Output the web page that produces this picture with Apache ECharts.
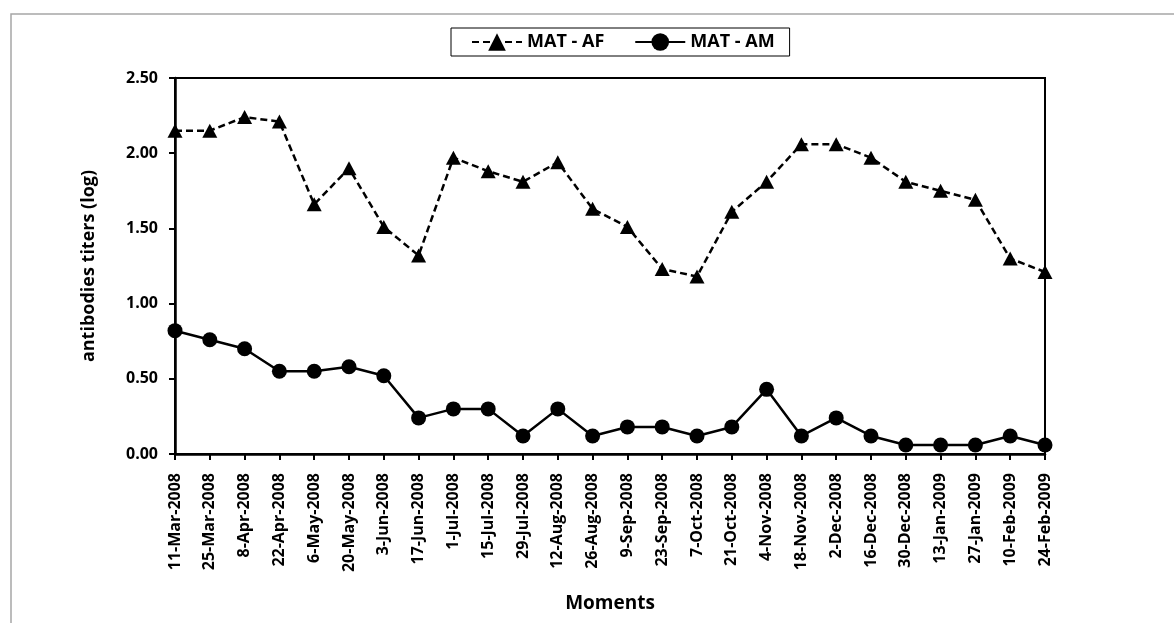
<!DOCTYPE html>
<html>
<head>
<meta charset="utf-8">
<script src="https://cdn.jsdelivr.net/npm/echarts@6/dist/echarts.min.js"></script>
<style>
html,body{margin:0;padding:0;background:#fff;}
#chart{width:1174px;height:623px;}
</style>
</head>
<body>
<div id="chart"></div>
<script>
const categories = ['11-Mar-2008','25-Mar-2008','8-Apr-2008','22-Apr-2008','6-May-2008','20-May-2008','3-Jun-2008','17-Jun-2008','1-Jul-2008','15-Jul-2008','29-Jul-2008','12-Aug-2008','26-Aug-2008','9-Sep-2008','23-Sep-2008','7-Oct-2008','21-Oct-2008','4-Nov-2008','18-Nov-2008','2-Dec-2008','16-Dec-2008','30-Dec-2008','13-Jan-2009','27-Jan-2009','10-Feb-2009','24-Feb-2009'];
const matAF = [2.15,2.15,2.24,2.21,1.66,1.90,1.51,1.32,1.97,1.88,1.81,1.94,1.63,1.51,1.23,1.18,1.61,1.81,2.06,2.06,1.97,1.81,1.75,1.69,1.30,1.21];
const matAM = [0.82,0.76,0.70,0.55,0.55,0.58,0.52,0.24,0.30,0.30,0.12,0.30,0.12,0.18,0.18,0.12,0.18,0.43,0.12,0.24,0.12,0.06,0.06,0.06,0.12,0.06];
const yTicks = {min:0, max:2.5, interval:0.5};

const FONT = '"Open Sans"';
const chart = echarts.init(document.getElementById('chart'), null, {renderer:'canvas'});
chart.setOption({
  animation:false,
  backgroundColor:'#fff',
  graphic:[{type:'rect', shape:{x:11,y:14,width:1200,height:700}, style:{fill:'none', stroke:'#a6a6a6', lineWidth:1.5}, silent:true}],
  legend:{
    left:451, top:28,
    padding:[5,15,5,20],
    borderColor:'#000', borderWidth:1,
    itemWidth:50, itemHeight:22, itemGap:30,
    textStyle:{fontFamily:FONT, fontWeight:'bold', fontSize:18, color:'#000'},
    data:['MAT - AF','MAT - AM']
  },
  grid:{left:175, right:129, top:78, bottom:169, show:true, borderColor:'#000', borderWidth:2, containLabel:false},
  xAxis:{
    type:'category', data:categories, boundaryGap:false,
    name:'Moments', nameLocation:'middle', nameGap:140,
    nameTextStyle:{fontFamily:FONT, fontWeight:'bold', fontSize:19, color:'#000'},
    axisLine:{lineStyle:{color:'#000', width:2.5}},
    axisTick:{show:true, inside:false, length:6, lineStyle:{color:'#000', width:2}},
    axisLabel:{rotate:90, margin:19, interval:0, fontFamily:FONT, fontWeight:'bold', fontSize:16, color:'#000'},
    splitLine:{show:false}
  },
  yAxis:{
    type:'value', min:yTicks.min, max:yTicks.max, interval:yTicks.interval,
    name:'antibodies titers (log)', nameLocation:'middle', nameGap:77,
    nameTextStyle:{fontFamily:FONT, fontWeight:'bold', fontSize:18, color:'#000'},
    axisLine:{show:true, lineStyle:{color:'#000', width:2.5}},
    axisTick:{show:true, inside:false, length:6, lineStyle:{color:'#000', width:2}},
    axisLabel:{margin:17, fontFamily:FONT, fontWeight:'bold', fontSize:16, color:'#000', formatter:v=>v.toFixed(2)},
    splitLine:{show:false}
  },
  series:[
    {name:'MAT - AF', type:'line', data:matAF, symbol:'triangle', symbolSize:[15,14],
     lineStyle:{color:'#000', width:2.5, type:[7,4]}, itemStyle:{color:'#000'}, z:3},
    {name:'MAT - AM', type:'line', data:matAM, symbol:'circle', symbolSize:15,
     lineStyle:{color:'#000', width:2.5, type:'solid'}, itemStyle:{color:'#000'}, z:4}
  ]
});
</script>
</body>
</html>
